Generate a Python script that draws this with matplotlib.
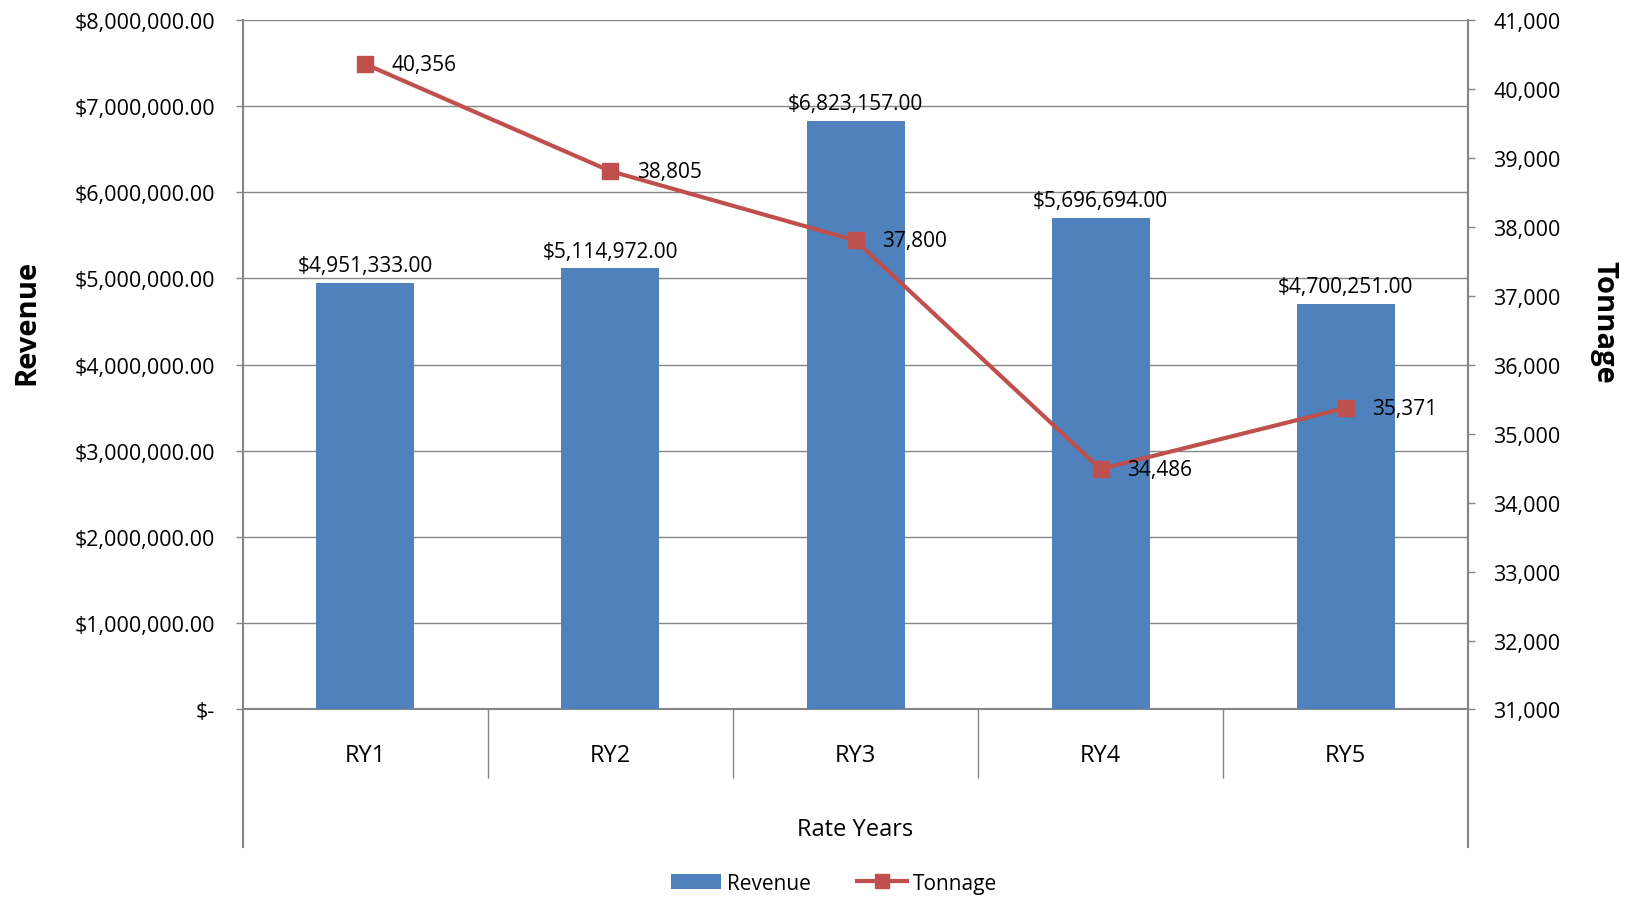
import matplotlib
matplotlib.use("Agg")
import matplotlib.pyplot as plt
from matplotlib.lines import Line2D
from matplotlib.patches import Patch
from matplotlib.ticker import FuncFormatter

categories = ["RY1", "RY2", "RY3", "RY4", "RY5"]
revenue = [4951333.00, 5114972.00, 6823157.00, 5696694.00, 4700251.00]
tonnage = [40356, 38805, 37800, 34486, 35371]

BAR = "#4F81BD"
LINE = "#C0504D"
GRAY = "#868686"

plt.rcParams["font.family"] = ["Open Sans", "DejaVu Sans"]
plt.rcParams["font.size"] = 15


def money(v, pos=None):
    if v == 0:
        return "$-"
    return f"${v:,.2f}"


def main():
    fig = plt.figure(figsize=(16.26, 9.03), dpi=100)
    ax = fig.add_axes([0.1494, 0.2132, 0.7535, 0.7638])
    x = list(range(len(categories)))

    ax.bar(x, revenue, width=0.4, color=BAR, zorder=3)
    ax.set_xlim(-0.5, len(categories) - 0.5)
    ax.set_ylim(0, 8000000)
    ax.set_yticks(range(0, 8000001, 1000000))
    ax.yaxis.set_major_formatter(FuncFormatter(money))
    ax.yaxis.grid(True, color=GRAY, linewidth=1.0, zorder=0)
    ax.set_axisbelow(True)

    for xi, v in zip(x, revenue):
        ax.annotate(money(v), (xi, v), xytext=(0, 5), textcoords="offset points",
                    ha="center", va="bottom", fontsize=15, zorder=5)

    ax.set_xticks(x)
    ax.set_xticklabels(categories, fontsize=17)
    ax.set_xticks([i + 0.5 for i in x[:-1]], minor=True)
    ax.tick_params(axis="x", which="major", length=0, pad=24)
    ax.tick_params(axis="x", which="minor", length=50, width=1.0, color=GRAY, direction="out")
    ax.tick_params(axis="y", length=5, width=1.0, color=GRAY, pad=15, labelsize=15.5)

    ax.spines["top"].set_visible(False)
    for s in ["left", "right", "bottom"]:
        ax.spines[s].set_color(GRAY)
        ax.spines[s].set_linewidth(1.5)
    # spines run on below the plot area
    for xe in (0, 1):
        ax.add_line(Line2D([xe, xe], [0, -0.2], transform=ax.transAxes,
                           color=GRAY, linewidth=1.5, clip_on=False))

    ax.set_xlabel("Rate Years", fontsize=17, labelpad=24)
    ax.set_ylabel("Revenue", fontsize=21, fontweight="bold", labelpad=24)
    ax.yaxis.label.set_y(0.562)

    ax2 = ax.twinx()
    ax2.plot(x, tonnage, color=LINE, linewidth=3, marker="s", markersize=12, zorder=4)
    ax2.set_ylim(31000, 41000)
    ax2.set_yticks(range(31000, 41001, 1000))
    ax2.yaxis.set_major_formatter(FuncFormatter(lambda v, p: f"{v:,.0f}"))
    ax2.tick_params(axis="y", length=5, width=1.0, color=GRAY, pad=13, labelsize=15.5)
    for s in ["top", "left", "bottom"]:
        ax2.spines[s].set_visible(False)
    ax2.spines["right"].set_color(GRAY)
    ax2.spines["right"].set_linewidth(1.5)
    ax2.set_ylabel("Tonnage", fontsize=21, fontweight="bold", rotation=270, labelpad=42)
    ax2.yaxis.label.set_y(0.562)

    for xi, t in zip(x, tonnage):
        ax2.annotate(f"{t:,}", (xi, t), xytext=(19, 0), textcoords="offset points",
                     ha="left", va="center", fontsize=15, zorder=5)

    handles = [Patch(facecolor=BAR), Line2D([], [], color=LINE, linewidth=3, marker="s", markersize=10)]
    fig.legend(handles, ["Revenue", "Tonnage"], loc="center", bbox_to_anchor=(0.513, 0.021),
               ncol=2, frameon=False, fontsize=15, handlelength=2.4, columnspacing=2.2,
               handletextpad=0.3)

    fig.savefig("out.png", dpi=100)


if __name__ == "__main__":
    main()
